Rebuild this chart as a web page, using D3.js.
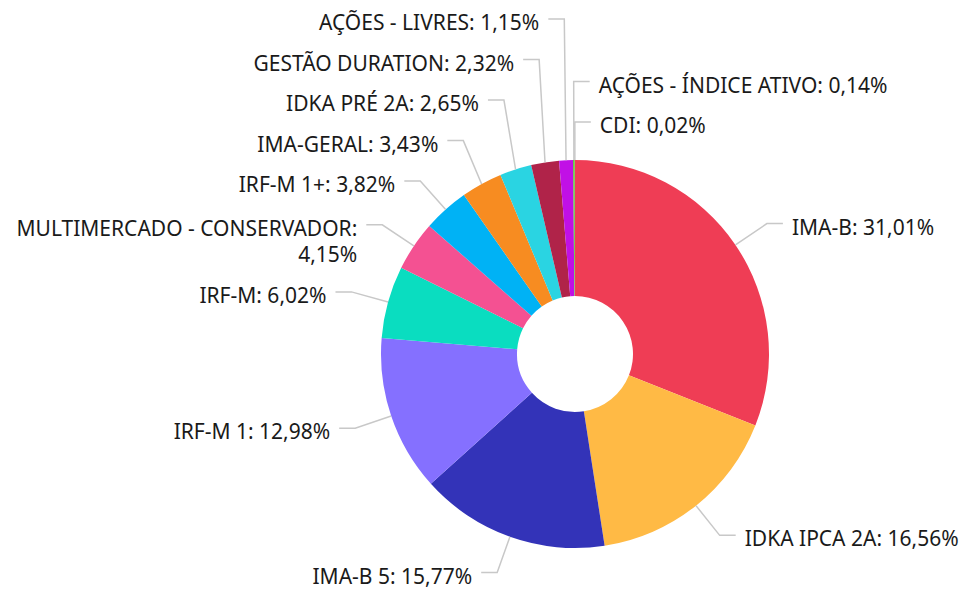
<!DOCTYPE html>
<html>
<head>
<meta charset="utf-8">
<script src="https://cdn.jsdelivr.net/npm/d3@7"></script>
<style>
  html, body { margin: 0; padding: 0; background: #fff; }
  text { font-family: "Noto Sans", "Open Sans", sans-serif; }
</style>
</head>
<body>
<div id="chart"></div>
<script>
// data
const categories = ['IMA-B', 'IDKA IPCA 2A', 'IMA-B 5', 'IRF-M 1', 'IRF-M', 'MULTIMERCADO - CONSERVADOR',
  'IRF-M 1+', 'IMA-GERAL', 'IDKA PRÉ 2A', 'GESTÃO DURATION', 'AÇÕES - LIVRES', 'AÇÕES - ÍNDICE ATIVO', 'CDI'];
const values = [31.01, 16.56, 15.77, 12.98, 6.02, 4.15, 3.82, 3.43, 2.65, 2.32, 1.15, 0.14, 0.02];
const colors = ['#EF3D55', '#FFBA45', '#3333B8', '#8570FF', '#0ADDC0', '#F45192', '#00B2F5',
  '#F78C21', '#2AD4E2', '#B02349', '#C110E6', '#5DC43A', '#8BC34A'];

const W = 962, H = 593;
const cx = 575, cy = 354, R = 194, r0 = 58;
const tickR = R + 38, seg = 16, gap = 9, lineGap = 40.5, fs = 21;

const fmt = v => v.toFixed(2).replace('.', ',') + '%';

const svg = d3.select('#chart').append('svg').attr('width', W).attr('height', H);
const g = svg.append('g').attr('transform', `translate(${cx},${cy})`);

const pie = d3.pie().sort(null).value(d => d.v);
const arcs = pie(categories.map((c, i) => ({ c, v: values[i], col: colors[i] })));
const arc = d3.arc().innerRadius(r0).outerRadius(R);

g.selectAll('path.slice')
  .data(arcs)
  .enter()
  .append('path')
  .attr('class', 'slice')
  .attr('d', arc)
  .attr('fill', d => d.data.col);

// label layout: tick bends at tickR, overlapping labels pushed upward
const labels = arcs.map(d => {
  const a = (d.startAngle + d.endAngle) / 2;
  const s = Math.sin(a), c = -Math.cos(a);
  return {
    d, a, s, c,
    side: s < -0.01 ? 'left' : 'right',
    bx: tickR * s,
    y0: tickR * c
  };
});

['left', 'right'].forEach(side => {
  const list = labels.filter(l => l.side === side)
    .sort((p, q) => Math.round(p.y0) - Math.round(q.y0) || p.d.index - q.d.index);
  for (let i = list.length - 1; i >= 0; i--) {
    const l = list[i];
    l.y = i === list.length - 1 ? l.y0 : Math.min(l.y0, list[i + 1].y - lineGap);
  }
});

const lab = g.append('g');
labels.forEach(l => {
  const dir = l.side === 'left' ? -1 : 1;
  const ex = l.bx + dir * seg;
  lab.append('polyline')
    .attr('points', [[R * l.s, R * l.c], [l.bx, l.y], [ex, l.y]].map(p => p.join(',')).join(' '))
    .attr('fill', 'none')
    .attr('stroke', '#c8c8c8')
    .attr('stroke-width', 1.5);

  const txt = lab.append('text')
    .attr('x', ex + dir * gap)
    .attr('y', l.y + 11)
    .attr('text-anchor', l.side === 'left' ? 'end' : 'start')
    .attr('font-size', fs)
    .attr('fill', '#1a1a1a');
  const full = `${l.d.data.c}: ${fmt(l.d.data.v)}`;
  if (full.length > 30) {
    txt.append('tspan').attr('x', ex + dir * gap).text(`${l.d.data.c}:`);
    txt.append('tspan').attr('x', ex + dir * gap).attr('dy', 26).text(fmt(l.d.data.v));
  } else {
    txt.text(full);
  }
});
</script>
</body>
</html>
